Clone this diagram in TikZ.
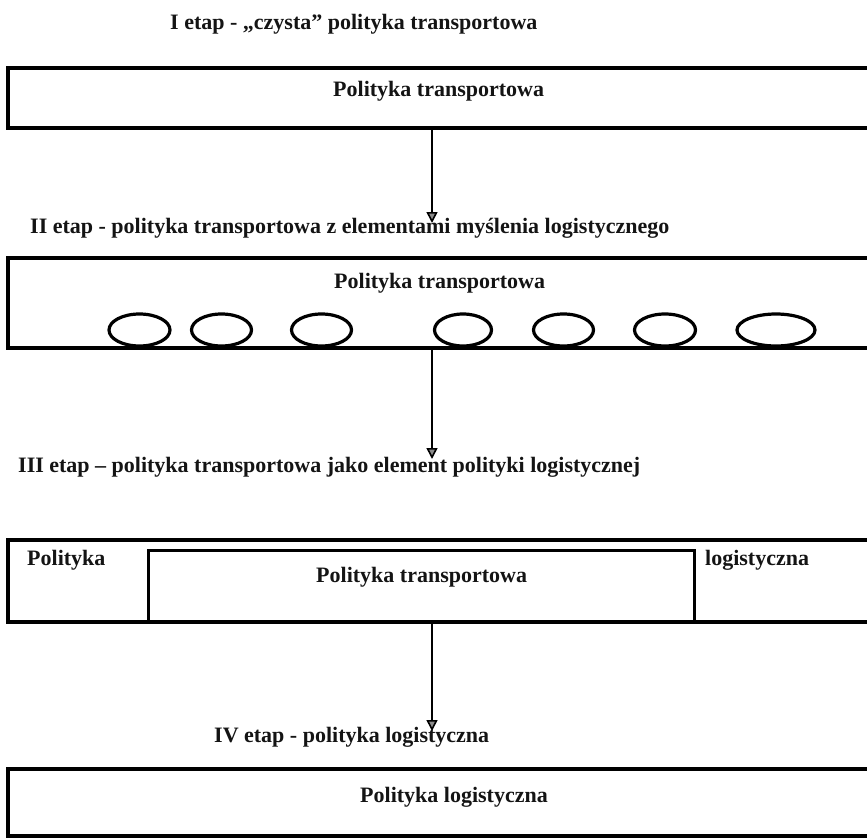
\documentclass[tikz,border=0pt]{standalone}
\usepackage{fontspec}
\setmainfont{Liberation Serif}
\usetikzlibrary{shapes.geometric,arrows.meta}
\tikzset{
  box/.style={draw, rectangle, line width=3.4pt, inner sep=0pt, minimum width=#1},
  ring/.style={draw, ellipse, line width=3.2pt, inner sep=0pt, minimum height=32pt},
  lbl/.style={font=\fontsize{22}{24}\selectfont\bfseries, text=black!92, inner sep=0pt, anchor=base west},
  arr/.style={line width=2.4pt, -{Triangle[length=11pt, width=11pt, line width=1.6pt, fill=black!45]}}
}
\begin{document}
\begin{tikzpicture}[x=1pt, y=-1pt]
\useasboundingbox (0,0) rectangle (867,840);
\clip (0,0) rectangle (867,840);
\fill[white] (0,0) rectangle (867,840);

% Stage I
\node[lbl] (t1) at (170,30) {I etap - „czysta” polityka transportowa};
\node[box=892pt, minimum height=60pt] (b1) at (454,98) {};
\node[lbl] (p1) at (333,97) {Polityka transportowa};

% Stage II
\node[lbl] (t2) at (30,233) {II etap - polityka transportowa z elementami myślenia logistycznego};
\node[box=892pt, minimum height=90pt] (b2) at (454,303) {};
\node[lbl] (p2) at (334,288) {Polityka transportowa};
\node[ring, minimum width=61pt] (e1) at (139.5,330) {};
\node[ring, minimum width=60pt] (e2) at (221.5,330) {};
\node[ring, minimum width=60pt] (e3) at (321.5,330) {};
\node[ring, minimum width=57pt] (e4) at (463,330) {};
\node[ring, minimum width=60pt] (e5) at (563.5,330) {};
\node[ring, minimum width=61pt] (e6) at (665,330) {};
\node[ring, minimum width=78pt] (e7) at (776,330) {};

% Stage III
\node[lbl] (t3) at (18,472) {III etap – polityka transportowa jako element polityki logistycznej};
\node[box=892pt, minimum height=82pt] (b3) at (454,581) {};
\node[box=546pt, minimum height=72pt, line width=3pt] (b3i) at (421,586) {};
\node[lbl] (p3a) at (27,565) {Polityka};
\node[lbl] (p3b) at (316,582) {Polityka transportowa};
\node[lbl] (p3c) at (705,565) {logistyczna};

% Stage IV
\node[lbl] (t4) at (214,742) {IV etap - polityka logistyczna};
\node[box=892pt, minimum height=67pt] (b4) at (454,802.5) {};
\node[lbl] (p4) at (360,802) {Polityka logistyczna};

% Arrows
\coordinate (a1) at (432,223);
\coordinate (a2) at (432,459);
\coordinate (a3) at (432,731);
\draw[arr] (b1.south -| a1) -- (a1);
\draw[arr] (b2.south -| a2) -- (a2);
\draw[arr] (b3.south -| a3) -- (a3);
\end{tikzpicture}
\end{document}
